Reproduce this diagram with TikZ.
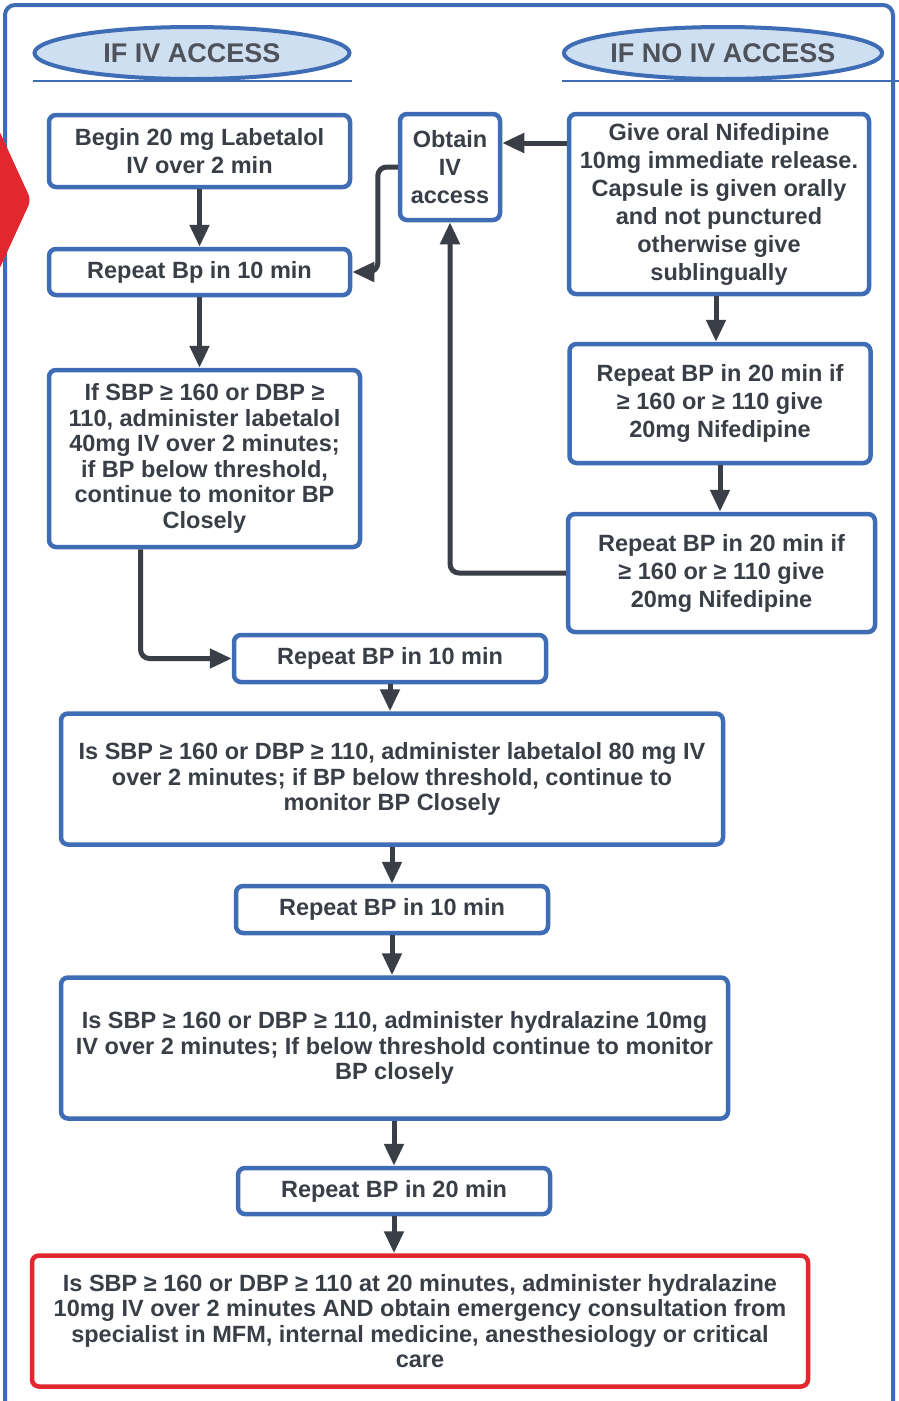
\documentclass[tikz,border=0pt]{standalone}
\usepackage{fontspec}
\setmainfont{Liberation Sans}
\usetikzlibrary{shapes.geometric,arrows.meta,positioning,calc}

\definecolor{bdblue}{HTML}{3E6DB5}
\definecolor{hdfill}{HTML}{CFDFF2}
\definecolor{txtgray}{HTML}{3A3F47}
\definecolor{alertred}{HTML}{E1282E}

\begin{document}
\begin{tikzpicture}[x=1pt, y=-1pt,
  box/.style={rectangle, draw=bdblue, line width=4.5pt, fill=white, rounded corners=7pt,
    align=center, text=txtgray, inner sep=0pt, font=\bfseries\fontsize{23.5}{28}\selectfont},
  lowbox/.style={box, font=\bfseries\fontsize{23.5}{25.5}\selectfont},
  redbox/.style={lowbox, draw=alertred},
  hdr/.style={ellipse, draw=bdblue, line width=4pt, fill=hdfill, text=txtgray!90,
    font=\bfseries\fontsize{27}{30}\selectfont, minimum width=315pt, minimum height=52pt, inner sep=0pt},
  arrow/.style={-{Triangle[length=22pt,width=19pt]}, line width=5pt, draw=txtgray, rounded corners=9pt},
]
\useasboundingbox (0,0) rectangle (899,1401);
\fill[white] (0,0) rectangle (899,1401);

%% ── Frame ──
\draw[bdblue, line width=4pt, rounded corners=10pt] (5,5) rectangle (893,1430);
\fill[alertred, rounded corners=6pt] (-12,128) -- (-2,128) -- (31,200) -- (-2,272) -- (-12,272) -- cycle;

%% ── Headers ──
\node[hdr] (ivhd) at (192,53)  {IF IV ACCESS};
\node[hdr] (nohd) at (723,53)  {IF NO IV ACCESS};
\draw[bdblue, line width=1.2pt] (ivhd.west |- ivhd.south) -- (ivhd.east |- ivhd.south);
\draw[bdblue, line width=1.2pt] (nohd.west |- nohd.south) -- (899,81);

%% ── Left column: IV labetalol ──
\node[box, minimum width=301pt, minimum height=72pt] (begin) at (199.5,151) {Begin 20 mg Labetalol\\IV over 2 min};
\node[box, minimum width=301pt, minimum height=46pt] (rep1)  at (199.5,272) {Repeat Bp in 10 min};
\node[lowbox, minimum width=311pt, minimum height=177pt] (lab40) at (204.5,458.5)
  {If SBP ≥ 160 or DBP ≥\\110, administer labetalol\\40mg IV over 2 minutes;\\if BP below threshold,\\continue to monitor BP\\Closely};

%% ── Middle: obtain access ──
\node[box, minimum width=100pt, minimum height=106pt] (obtain) at (450,167) {Obtain\\IV\\access};

%% ── Right column: oral nifedipine ──
\node[box, minimum width=300pt, minimum height=180pt] (nif) at (719,204)
  {Give oral Nifedipine\\10mg immediate release.\\Capsule is given orally\\and not punctured\\otherwise give\\sublingually};
\node[box, minimum width=301pt, minimum height=119pt] (rptA) at (720,403.5)
  {Repeat BP in 20 min if\\≥ 160 or ≥ 110 give\\20mg Nifedipine};
\node[box, minimum width=307pt, minimum height=118pt] (rptB) at (721.5,573)
  {Repeat BP in 20 min if\\≥ 160 or ≥ 110 give\\20mg Nifedipine};

%% ── Lower chain ──
\node[box, minimum width=312pt, minimum height=47pt] (rep2) at (390,658.5) {Repeat BP in 10 min};
\node[lowbox, minimum width=662pt, minimum height=131pt] (lab80) at (392,779)
  {Is SBP ≥ 160 or DBP ≥ 110, administer labetalol 80 mg IV\\over 2 minutes; if BP below threshold, continue to\\monitor BP Closely};
\node[box, minimum width=312pt, minimum height=47pt] (rep3) at (392,909.5) {Repeat BP in 10 min};
\node[lowbox, minimum width=667pt, minimum height=141pt] (hyd10) at (394.5,1048)
  {Is SBP ≥ 160 or DBP ≥ 110, administer hydralazine 10mg\\IV over 2 minutes; If below threshold continue to monitor\\BP closely};
\node[box, minimum width=312pt, minimum height=46pt] (rep4) at (394,1191) {Repeat BP in 20 min};
\node[redbox, minimum width=776pt, minimum height=131pt] (emerg) at (420,1321)
  {Is SBP ≥ 160 or DBP ≥ 110 at 20 minutes, administer hydralazine\\10mg IV over 2 minutes AND obtain emergency consultation from\\specialist in MFM, internal medicine, anesthesiology or critical\\care};

%% ── Arrows ──
\draw[arrow] (begin) -- (rep1);
\draw[arrow] (obtain.west) -- ++(-20,0) |- (rep1.east);
\draw[arrow] (rep1) -- (lab40.north -| rep1.south);
\draw[arrow] ([xshift=-64pt]lab40.south) |- (rep2.west);
\coordinate (nifin) at ([yshift=61pt]nif.west);
\draw[arrow] (nifin) -- (nifin -| obtain.east);
\draw[arrow] ([xshift=-3pt]nif.south) -- ([xshift=-3pt]nif.south |- rptA.north);
\draw[arrow] (rptA.south) -- (rptA.south |- rptB.north);
\draw[arrow] (rptB.west) -| (obtain.south);
\draw[arrow] (rep2) -- (lab80.north -| rep2.south);
\draw[arrow] (lab80.south -| rep3.north) -- (rep3);
\draw[arrow] (rep3) -- (hyd10.north -| rep3.south);
\draw[arrow] (hyd10.south -| rep4.north) -- (rep4);
\draw[arrow] (rep4) -- (emerg.north -| rep4.south);
\end{tikzpicture}
\end{document}
